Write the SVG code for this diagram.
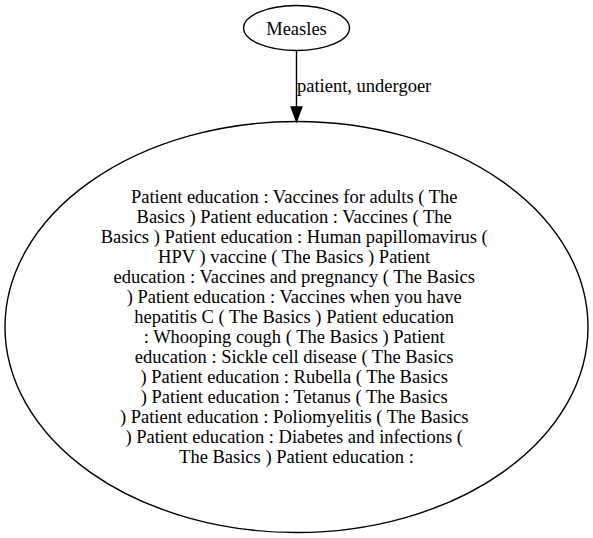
<svg xmlns="http://www.w3.org/2000/svg" width="593" height="538" viewBox="0 0 593 538">
<defs>
<style>
text { font-family: "Liberation Serif", "Times New Roman", serif; font-size: 18.5px; fill: #000; }
.node { fill: none; stroke: #000; stroke-width: 1.4; }
.edge { stroke: #000; stroke-width: 1.4; fill: none; }
</style>
<marker id="arrow" markerUnits="userSpaceOnUse" markerWidth="12" markerHeight="16" refX="5.5" refY="14.5" orient="auto" viewBox="0 0 11 15">
<path d="M0,0 L11,0 L5.5,14.5 Z" fill="#000" stroke="#000" stroke-width="1"/>
</marker>
</defs>
<rect width="593" height="538" fill="#fff"/>
<g id="connectors">
<path class="edge" d="M296.5,50.5 L296.5,107"/>
<path d="M291.2,107 L301.8,107 L296.5,121.5 Z" fill="#000" stroke="#000" stroke-width="1.4"/>
<text x="297" y="92">patient, undergoer</text>
</g>
<g id="measles">
<ellipse class="node" cx="296.5" cy="28" rx="53" ry="22.5"/>
<text x="296.5" y="34.5" text-anchor="middle">Measles</text>
</g>
<g id="patient-education">
<ellipse class="node" cx="296.5" cy="327" rx="291.5" ry="205.5"/>
<text text-anchor="middle">
<tspan x="296.5" y="203">Patient education : Vaccines for adults ( The</tspan>
<tspan x="296.5" y="223">Basics ) Patient education : Vaccines ( The</tspan>
<tspan x="296.5" y="243">Basics ) Patient education : Human papillomavirus (</tspan>
<tspan x="296.5" y="263">HPV ) vaccine ( The Basics ) Patient</tspan>
<tspan x="296.5" y="283">education : Vaccines and pregnancy ( The Basics</tspan>
<tspan x="296.5" y="303">) Patient education : Vaccines when you have</tspan>
<tspan x="296.5" y="323">hepatitis C ( The Basics ) Patient education</tspan>
<tspan x="296.5" y="343">: Whooping cough ( The Basics ) Patient</tspan>
<tspan x="296.5" y="363">education : Sickle cell disease ( The Basics</tspan>
<tspan x="296.5" y="383">) Patient education : Rubella ( The Basics</tspan>
<tspan x="296.5" y="403">) Patient education : Tetanus ( The Basics</tspan>
<tspan x="296.5" y="423">) Patient education : Poliomyelitis ( The Basics</tspan>
<tspan x="296.5" y="443">) Patient education : Diabetes and infections (</tspan>
<tspan x="296.5" y="463">The Basics ) Patient education :</tspan>
</text>
</g>
</svg>
